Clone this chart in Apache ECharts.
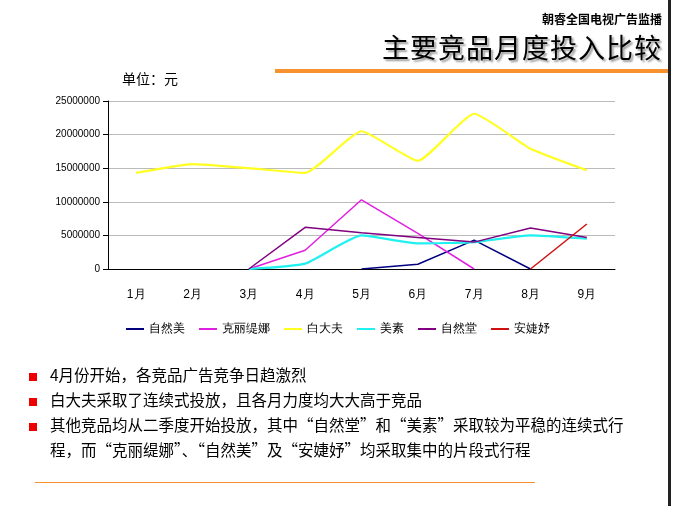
<!DOCTYPE html><html><head><meta charset="utf-8">
<script src="https://cdn.jsdelivr.net/npm/echarts@6/dist/echarts.min.js"></script>
<style>body{margin:0;font-family:"Noto Sans CJK SC";}
#c{position:absolute;left:0;top:0;width:676px;height:506px;}
.t{position:absolute;}
</style></head><body>
<div id="c"></div>
<div class="t" style="right:14px;top:10px;font-size:12px;font-weight:bold;">朝睿全国电视广告监播</div>
<div class="t" style="right:14px;top:27px;font-size:27px;text-shadow:2px 2px 2px #999;letter-spacing:1px">主要竞品月度投入比较</div>
<div class="t" style="left:275px;top:69px;width:395px;height:4px;background:#f7922f"></div>
<div class="t" style="left:122px;top:68px;font-size:14px">单位：元</div>
<div class="t" style="left:28px;top:363px;font-size:15.5px;line-height:22px;width:620px">
<div><span style="color:#e00;font-size:10px;margin-right:12px">■</span>4月份开始，各竞品广告竞争日趋激烈</div>
<div><span style="color:#e00;font-size:10px;margin-right:12px">■</span>白大夫采取了连续式投放，且各月力度均大大高于竞品</div>
<div style="padding-left:22px;text-indent:-22px;width:600px"><span style="color:#e00;font-size:10px;margin-right:12px">■</span>其他竞品均从二季度开始投放，其中“自然堂”和“美素”采取较为平稳的连续式行程，而“克丽缇娜”、“自然美”及“安婕妤”均采取集中的片段式行程</div>
</div>
<div class="t" style="left:35px;top:482px;width:500px;height:1px;background:#f7922f"></div>
<div class="t" style="left:668px;top:0;width:3px;height:506px;background:#222"></div>
<script>
const months=['1月','2月','3月','4月','5月','6月','7月','8月','9月'];
const ziranmei=[null,null,null,null,0,700000,4300000,0,null];
const kelitina=[null,null,0,2800000,10300000,5300000,0,null,null];
const baidafu=[14300000,15600000,15000000,14300000,20500000,16100000,23100000,17900000,14700000];
const meisu=[null,null,0,800000,5000000,3800000,4000000,5000000,4500000];
const zirantang=[null,null,0,6200000,5400000,4700000,4000000,6100000,4700000];
const anjieyu=[null,null,null,null,null,null,null,0,6700000];
const names=['自然美','克丽缇娜','白大夫','美素','自然堂','安婕妤'];
const datas=[ziranmei,kelitina,baidafu,meisu,zirantang,anjieyu];
const colors=['#000080','#e020e0','#ffff20','#20f0f0','#800080','#d01010'];
const ch=echarts.init(document.getElementById('c'));
ch.setOption({animation:false,color:colors,
grid:{left:108,right:61,top:101,bottom:237},
legend:{bottom:166,left:'center',itemWidth:18,itemHeight:2,itemGap:14,icon:'rect',textStyle:{fontSize:12,color:'#000'},data:names},
xAxis:{type:'category',data:months,axisLine:{lineStyle:{color:'#000'}},axisLabel:{color:'#000',fontSize:12,margin:20}},
yAxis:{type:'value',min:0,max:25000000,interval:5000000,axisLine:{show:true,lineStyle:{color:'#000'}},axisTick:{show:true},axisLabel:{color:'#000',fontSize:10,formatter:v=>String(v)},splitLine:{lineStyle:{color:'#bbb'}}},
series:names.map((n,i)=>({name:n,type:'line',data:datas[i],symbol:'none',smooth:i===2||i===3?0.15:false,lineStyle:{width:i===2||i===3?2.2:1.5}}))});
</script></body></html>
